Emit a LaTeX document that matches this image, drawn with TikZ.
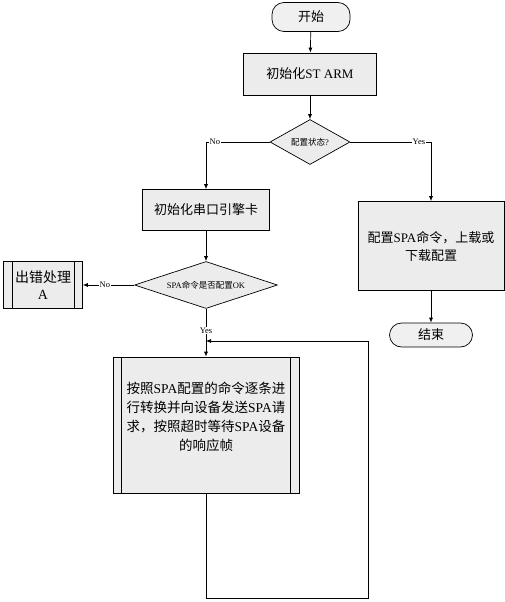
\documentclass[tikz,border=0pt]{standalone}
\usepackage{fontspec}
\setmainfont{Liberation Serif}
\newfontfamily\cjk{Noto Sans CJK SC}
\usetikzlibrary{shapes.geometric,arrows.meta}
\tikzset{
  process/.style={
    draw,
    fill=gray!15,
    inner sep = 0pt,
    align=center,
    font=\fontsize{13}{18}\selectfont
  },
  terminal/.style={
    draw,
    fill=gray!12,
    rounded corners=12pt,
    inner sep = 0pt,
    font=\fontsize{13}{16}\selectfont
  },
  decision/.style={
    draw,
    fill=gray!15,
    shape = diamond,
    aspect=2,
    inner sep = 0pt,
    font=\fontsize{8.5}{10}\selectfont
  },
  branch/.style={
    fill=white,
    inner sep = 1pt,
    font=\fontsize{8.5}{10}\selectfont
  },
  flow/.style={
    -{Latex[length=5pt,width=4pt]}
  },
  every picture/.style = {
    line width=0.7pt
  }
}

\begin{document}
\begin{tikzpicture}[x=1pt,y=-1pt]
    \useasboundingbox (0,0) rectangle (505,602);
    % nodes
    \node[terminal,minimum width=78pt,minimum height=29pt] (start) at (311,17) {\cjk 开始};
    \node[process,minimum width=133pt,minimum height=42pt] (arm) at (310,74) {{\cjk 初始化}ST ARM};
    \node[decision,minimum width=80pt,minimum height=45pt] (cfg) at (310,142) {{\cjk 配置状态}?};
    \node[process,minimum width=127pt,minimum height=41pt] (serial) at (206,210) {\cjk 初始化串口引擎卡};
    \node[decision,minimum width=143pt,minimum height=45pt] (spaok) at (206,285) {SPA{\cjk 命令是否配置}OK};
    \node[process,minimum width=79pt,minimum height=47pt,font=\fontsize{14}{17}\selectfont] (err) at (43,285) {{\cjk 出错处理}\\A};
    \node[process,minimum width=186pt,minimum height=136pt,font=\fontsize{13.5}{19}\selectfont] (send) at (206,425)
        {{\cjk 按照}SPA{\cjk 配置的命令逐条进}\\{\cjk 行转换并向设备发送}SPA{\cjk 请}\\{\cjk 求，按照超时等待}SPA{\cjk 设备}\\{\cjk 的响应帧}\\[-2pt]};
    \node[process,minimum width=146pt,minimum height=89pt] (upload) at (431,246)
        {{\cjk 配置}SPA{\cjk 命令，上载或}\\{\cjk 下载配置}};
    \node[terminal,minimum width=83pt,minimum height=24pt] (stop) at (431,335) {\cjk 结束};
    % double side bars
    \foreach \n/\d in {err/9, send/9}{
        \draw ([xshift=\d pt]\n.north west) -- ([xshift=\d pt]\n.south west);
        \draw ([xshift=-\d pt]\n.north east) -- ([xshift=-\d pt]\n.south east);
    }
    \coordinate (merge) at (206,341);
    \coordinate (loopr) at (368,598);
    % connectors
    \draw[flow] (start) -- (arm);
    \draw[flow] (arm) -- (cfg);
    \draw[flow] (cfg.west) -| node[branch,pos=0.43] {No} (serial.north);
    \draw[flow] (cfg.east) -| node[branch,pos=0.425] {Yes} (upload.north);
    \draw[flow] (serial) -- (spaok);
    \draw[flow] (spaok.west) -- node[branch,pos=0.57] {No} (err.east);
    \draw[flow] (spaok.south) -- node[branch,pos=0.45] {Yes} (send.north);
    \draw[flow] (send.south) |- (loopr) |- (merge);
    \draw[flow] (upload) -- (stop);
\end{tikzpicture}
\end{document}
